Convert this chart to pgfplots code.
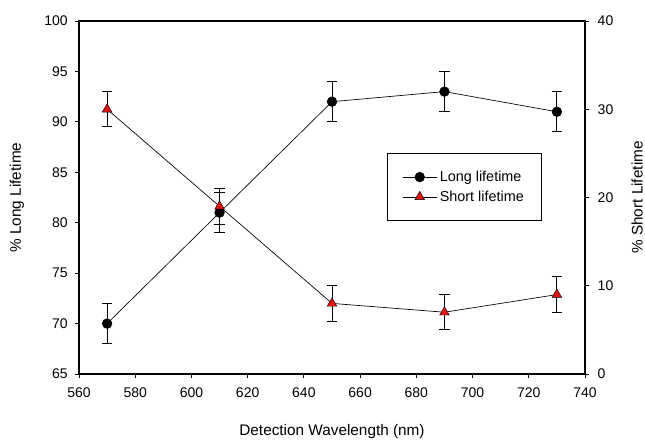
\documentclass[border=0pt]{standalone}
\usepackage{pgfplots}
\pgfplotsset{compat=1.18}
\usepackage{fontspec}
\setmainfont{Liberation Sans}

\pgfplotstableread{
x    y   err
570  70  2
610  81  2
650  92  2
690  93  2
730  91  2
}\longdata

\pgfplotstableread{
x    y   err
570  30  2
610  19  2
650  8   2
690  7   2
730  9   2
}\shortdata

\definecolor{trired}{RGB}{220,20,20}

\begin{document}
\begin{tikzpicture}
\pgfplotsset{
  every axis/.append style={
    scale only axis, width=379.5pt, height=264.75pt,
    xmin=560, xmax=740,
    xtick={560,580,...,740},
    tick align=outside,
    major tick length=3pt,
    tick style={black, line width=0.7pt},
    axis line style={line width=0.8pt},
    tick label style={font=\fontsize{10.5}{12}\selectfont},
    label style={font=\fontsize{11.5}{13}\selectfont},
    /pgf/number format/assume math mode=true,
    /pgf/number format/1000 sep={},
  },
}
\begin{axis}[
  ymin=65, ymax=100,
  ytick={65,70,...,100},
  xtick pos=bottom, ytick pos=left,
  xlabel={Detection Wavelength (nm)},
  ylabel={\% Long Lifetime},
  xlabel style={at={(axis description cs:0.5,-0.1624)}, anchor=center},
  ylabel style={at={(axis description cs:-0.1225,0.5)}, anchor=center},
  yticklabel style={xshift=-2pt},
  xticklabel style={yshift=-4pt},
]
\addplot[black, line width=0.5pt, mark=*, mark size=3.6pt,
  error bars/.cd, y dir=both, y explicit,
  error bar style={line width=0.7pt}, error mark options={rotate=90, mark size=3.8pt, line width=0.7pt}]
  table[x=x, y=y, y error=err] {\longdata};
\end{axis}
\begin{axis}[
  ymin=0, ymax=40,
  ytick={0,10,...,40},
  axis y line*=right,
  axis x line=none,
  ylabel={\% Short Lifetime},
  ylabel style={at={(axis description cs:1.1028,0.5)}, anchor=center},
  yticklabel style={xshift=3pt},
  legend style={at={(0.609,0.626)}, anchor=north west,
    draw=black, line width=0.8pt,
    font=\fontsize{10.8}{12}\selectfont,
    inner xsep=11pt, inner ysep=11pt, row sep=1.5pt},
  legend image code/.code={
    \draw[mark repeat=2, mark phase=2] plot coordinates {(0cm,0cm) (0.45cm,0cm) (0.9cm,0cm)};
  },
  legend cell align=left,
]
\addlegendimage{black, line width=0.5pt, mark=*, mark size=3.6pt}
\addlegendentry{Long lifetime}
\addplot[black, line width=0.5pt, mark=triangle*, mark size=4.2pt,
  mark options={fill=trired, draw=black, line width=0.3pt},
  error bars/.cd, y dir=both, y explicit,
  error bar style={line width=0.7pt}, error mark options={rotate=90, mark size=3.8pt, line width=0.7pt}]
  table[x=x, y=y, y error=err] {\shortdata};
\addlegendentry{Short lifetime}
\end{axis}
\pgfresetboundingbox
\path ([xshift=-59.25pt, yshift=-48.75pt]current axis.south west)
  rectangle ([xshift=45pt, yshift=15.75pt]current axis.north east);
\end{tikzpicture}
\end{document}
